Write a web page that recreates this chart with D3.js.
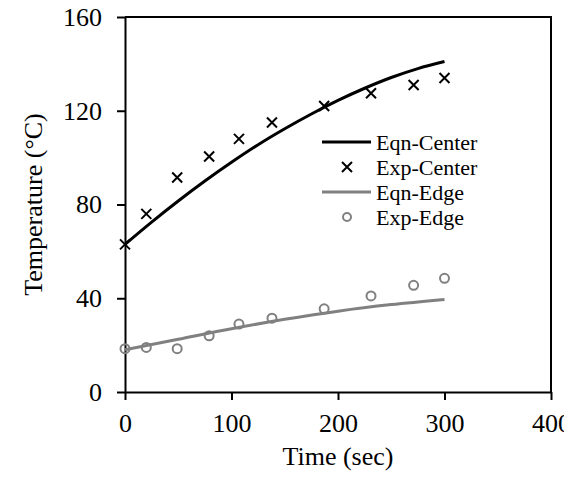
<!DOCTYPE html>
<html>
<head>
<meta charset="utf-8">
<script src="https://cdn.jsdelivr.net/npm/d3@7"></script>
<style>
  body { margin: 0; background: #fff; }
  svg { display: block; }
  text { font-family: "Liberation Serif", "Times New Roman", serif; fill: #000; }
</style>
</head>
<body>
<div id="chart"></div>
<script>
// data
var eqnCenterT = [0, 25, 50, 75, 100, 125, 150, 175, 200, 225, 250, 275, 300];
var eqnCenterY = [63, 72.5, 81.5, 90, 98, 105.5, 112.3, 118.6, 124.4, 129.6, 134.2, 138, 141];
var eqnEdgeT = [0, 50, 100, 150, 200, 250, 300];
var eqnEdgeY = [18, 22.5, 27, 31, 34.5, 37.3, 39.5];
var expT = [0, 20, 49, 79, 107, 138, 187, 231, 271, 300];
var expCenterY = [63, 76, 91.5, 100.5, 108, 115, 122, 127.5, 131, 134];
var expEdgeY = [18.5, 19, 18.5, 24, 29, 31.5, 35.5, 41, 45.5, 48.5];
var xTicks = [0, 100, 200, 300, 400];
var yTicks = [0, 40, 80, 120, 160];
var legendNames = ["Eqn-Center", "Exp-Center", "Eqn-Edge", "Exp-Edge"];

var W = 564, H = 477;
var pLeft = 125, pRight = 551, pTop = 17, pBottom = 392;

var svg = d3.select("#chart").append("svg")
  .attr("width", W)
  .attr("height", H);

var x = d3.scaleLinear().domain([0, 400]).range([pLeft, pRight]);
var y = d3.scaleLinear().domain([0, 160]).range([pBottom, pTop]);

var grey = "#808080";

// box top & right
svg.append("path")
  .attr("d", "M" + pLeft + "," + pTop + "H" + pRight + "V" + pBottom)
  .attr("fill", "none")
  .attr("stroke", "#000")
  .attr("stroke-width", 2);

var xAxis = svg.append("g")
  .attr("transform", "translate(0," + pBottom + ")")
  .call(d3.axisBottom(x).tickValues(xTicks).tickSize(8).tickPadding(14).tickSizeOuter(0));
var yAxis = svg.append("g")
  .attr("transform", "translate(" + pLeft + ",0)")
  .call(d3.axisLeft(y).tickValues(yTicks).tickSize(8).tickPadding(15).tickSizeOuter(0));

[xAxis, yAxis].forEach(function(g) {
  g.select(".domain").attr("stroke", "#000").attr("stroke-width", 2);
  g.selectAll(".tick line").attr("stroke", "#000").attr("stroke-width", 2);
  g.selectAll(".tick text")
    .style("font-family", "'Liberation Serif', serif")
    .style("font-size", "26px")
    .attr("fill", "#000");
});

// axis titles
svg.append("text")
  .attr("x", (pLeft + pRight) / 2)
  .attr("y", 465)
  .attr("text-anchor", "middle")
  .style("font-size", "26px")
  .text("Time (sec)");

svg.append("text")
  .attr("transform", "translate(42," + ((pTop + pBottom) / 2) + ") rotate(-90)")
  .attr("text-anchor", "middle")
  .style("font-size", "26px")
  .text("Temperature (°C)");

var line = d3.line().x(function(d) { return x(d[0]); }).y(function(d) { return y(d[1]); }).curve(d3.curveMonotoneX);

svg.append("path")
  .datum(d3.zip(eqnCenterT, eqnCenterY))
  .attr("d", line)
  .attr("fill", "none")
  .attr("stroke", "#000")
  .attr("stroke-width", 3);

svg.append("path")
  .datum(d3.zip(eqnEdgeT, eqnEdgeY))
  .attr("d", line)
  .attr("fill", "none")
  .attr("stroke", grey)
  .attr("stroke-width", 3);

function cross(g, cx, cy) {
  var s = 5;
  g.append("path")
    .attr("d", "M" + (cx - s) + "," + (cy - s) + "L" + (cx + s) + "," + (cy + s) +
      "M" + (cx - s) + "," + (cy + s) + "L" + (cx + s) + "," + (cy - s))
    .attr("stroke", "#000")
    .attr("stroke-width", 2)
    .attr("fill", "none");
}

var crosses = svg.append("g");
d3.zip(expT, expCenterY).forEach(function(d) { cross(crosses, x(d[0]), y(d[1])); });

svg.append("g").selectAll("circle")
  .data(d3.zip(expT, expEdgeY))
  .join("circle")
  .attr("cx", function(d) { return x(d[0]); })
  .attr("cy", function(d) { return y(d[1]); })
  .attr("r", 4.5)
  .attr("fill", "none")
  .attr("stroke", grey)
  .attr("stroke-width", 2);

// legend
var lg = svg.append("g");
var ly0 = 142, lstep = 25;
legendNames.forEach(function(name, i) {
  var ly = ly0 + i * lstep;
  if (i === 0 || i === 2) {
    lg.append("line")
      .attr("x1", 322).attr("x2", 371)
      .attr("y1", ly).attr("y2", ly)
      .attr("stroke", i === 0 ? "#000" : grey)
      .attr("stroke-width", 3);
  } else if (i === 1) {
    cross(lg, 347, ly);
  } else {
    lg.append("circle")
      .attr("cx", 347).attr("cy", ly).attr("r", 4)
      .attr("fill", "none").attr("stroke", grey).attr("stroke-width", 2);
  }
  lg.append("text")
    .attr("x", 376)
    .attr("y", ly + 8)
    .style("font-size", "22px")
    .text(name);
});
</script>
</body>
</html>
